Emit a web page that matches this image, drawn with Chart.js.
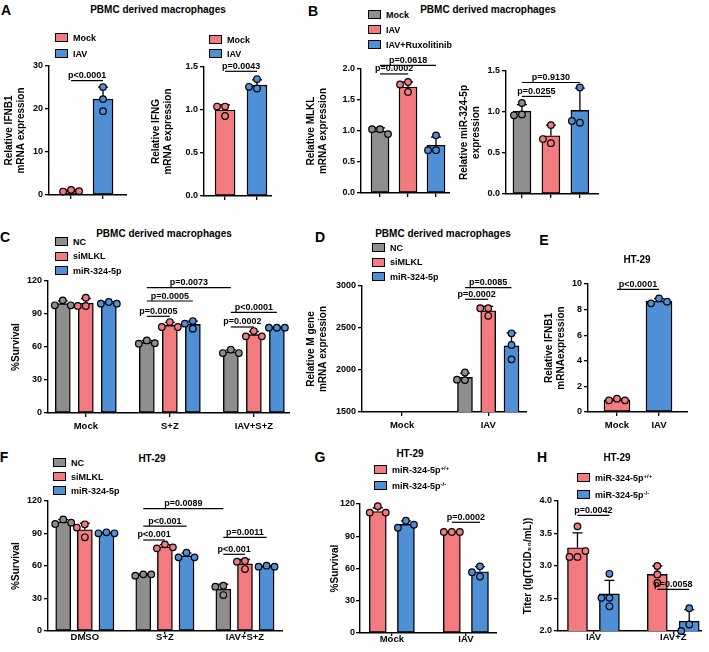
<!DOCTYPE html>
<html>
<head>
<meta charset="utf-8">
<script src="https://cdn.jsdelivr.net/npm/chart.js@4.4.1/dist/chart.umd.min.js"></script>
<style>
  body { margin: 0; background: #fff; }
  #fig { position: relative; width: 709px; height: 652px; overflow: hidden;
         font-family: 'Liberation Sans', Arial, sans-serif; font-weight: bold; color: #000; }
  #fig canvas { position: absolute; }
  .txt { position: absolute; white-space: nowrap; transform: translate(-50%, -50%); }
  .leg { position: absolute; display: flex; align-items: center; height: 9px;
         font-size: 9px; white-space: nowrap; }
  .leg i { display: inline-block; box-sizing: border-box; width: 13px; height: 9px;
           border: 1.5px solid #000; margin-right: 5px; }
  .leg sup { font-size: 6px; vertical-align: 3px; line-height: 0; }
</style>
</head>
<body>
<div id="fig"></div>
<script>
const GRAY = '#8e8e8e', RED = '#f27b7f', BLUE = '#4f8fd6';

// ---- A: PBMC derived macrophages, IFNB1 / IFNG
const aLabels = ['Mock', 'IAV'];
const ifnb1Mean = [0.97, 22.3];
const ifnb1Sd = [0.2, 2.8];
const ifnb1Pts = [[1.2, 0.8, 0.9], [25.1, 22.3, 19.5]];
const ifngMean = [1.0, 1.29];
const ifngSd = [0.06, 0.06];
const ifngPts = [[1.04, 1.04, 0.93], [1.36, 1.25, 1.27]];

// ---- B: MLKL / miR-324-5p
const bLabels = ['Mock', 'IAV', 'IAV+Ruxolitinib'];
const mlklMean = [1.0, 1.71, 0.77];
const mlklSd = [0.05, 0.08, 0.13];
const mlklPts = [[1.03, 1.03, 0.95], [1.79, 1.75, 1.63], [0.93, 0.69, 0.69]];
const mirMean = [1.01, 0.71, 1.02];
const mirSd = [0.08, 0.13, 0.27];
const mirPts = [[1.11, 0.97, 0.96], [0.84, 0.62, 0.67], [1.30, 0.87, 0.89]];

// ---- C: survival, PBMC macrophages
const cGroups = ['Mock', 'S+Z', 'IAV+S+Z'];
const cNcMean = [99.4, 64.2, 55.5];
const cNcSd = [2.6, 1.7, 1.8];
const cNcPts = [[102.4, 97.9, 97.9], [66.0, 63.0, 63.5], [57.6, 54.5, 54.5]];
const cSiMean = [99.8, 79.7, 71.3];
const cSiSd = [4.3, 2.6, 2.8];
const cSiPts = [[104.8, 97.3, 97.3], [82.7, 78.2, 78.2], [74.5, 69.7, 69.7]];
const cMirMean = [100.2, 80.5, 77.6];
const cMirSd = [1.0, 3.0, 0.5];
const cMirPts = [[100.9, 99.4, 99.4], [83.6, 76.7, 81.2], [77.6, 77.6, 77.6]];

// ---- D: M gene
const dGroups = ['Mock', 'IAV'];
const dNcMean = [null, 1912];
const dNcSd = [null, 50];
const dNcPts = [null, [1970, 1885, 1880]];
const dSiMean = [null, 2705];
const dSiSd = [null, 52];
const dSiPts = [null, [2735, 2735, 2645]];
const dMirMean = [null, 2287];
const dMirSd = [null, 155];
const dMirPts = [null, [2437, 2298, 2127]];

// ---- E: HT-29 IFNB1
const eLabels = ['Mock', 'IAV'];
const eMean = [0.95, 8.66];
const eSd = [0.08, 0.2];
const ePts = [[1.04, 0.91, 0.91], [8.88, 8.49, 8.62]];

// ---- F: HT-29 survival
const fGroups = ['DMSO', 'S+Z', 'IAV+S+Z'];
const fNcMean = [100.6, 51.9, 38.6];
const fNcSd = [2.2, 0.7, 4.7];
const fNcPts = [[103, 98.8, 100], [52.3, 51.1, 52.3], [41.8, 40.9, 33.2]];
const fSiMean = [93.5, 77.8, 61.9];
const fSiSd = [6.0, 1.9, 4.1];
const fSiPts = [[98.5, 95.5, 86.5], [80, 76.3, 77.2], [64.6, 64, 57.2]];
const fMirMean = [90.5, 69.4, 59.7];
const fMirSd = [0.5, 2.5, 0.5];
const fMirPts = [[91.1, 90.2, 90.2], [72.3, 68, 68], [60.3, 59.4, 59.4]];

// ---- G: HT-29 survival, knockout
const gGroups = ['Mock', 'IAV'];
const gWtMean = [113, 94];
const gWtSd = [3.5, 0.3];
const gWtPts = [[118, 112, 112], [94, 94, 94]];
const gKoMean = [101, 57];
const gKoSd = [3.3, 4.8];
const gKoPts = [[104.5, 98, 100.7], [62, 52.5, 56.5]];

// ---- H: HT-29 titer
const hGroups = ['IAV', 'IAV+Z'];
const hWtMean = [3.28, 2.87];
const hWtSd = [0.23, 0.13];
const hWtPts = [[3.61, 3.14, 3.14, 3.23], [3.0, 2.87, 2.74]];
const hKoMean = [2.57, 2.15];
const hKoSd = [0.21, 0.18];
const hKoPts = [[2.88, 2.51, 2.51, 2.38], [2.35, 2.10, 2.00]];

// p-value bars: [text, datasetA, indexA, datasetB, indexB, y]
const ifnb1P = [['p<0.0001', 0, 0, 0, 1, 26.6]];
const ifngP = [['p=0.0043', 0, 0, 0, 1, 1.45]];
const mlklP = [['p=0.0002', 0, 0, 0, 1, 1.92], ['p=0.0618', 0, 0, 0, 2, 2.06]];
const mirP = [['p=0.0255', 0, 0, 0, 1, 1.19], ['p=0.9130', 0, 0, 0, 2, 1.36]];
const cP = [['p=0.0073', 0, 1, 0, 2, 113.9], ['p=0.0005', 0, 1, 2, 1, 101.8], ['p=0.0005', 0, 1, 1, 1, 87.9],
            ['p<0.0001', 0, 2, 2, 2, 91.5], ['p=0.0002', 0, 2, 1, 2, 78.2]];
const dP = [['p=0.0085', 0, 1, 2, 1, 2980], ['p=0.0002', 0, 1, 1, 1, 2842]];
const eP = [['p<0.0001', 0, 0, 0, 1, 9.58]];
const fP = [['p=0.0089', 0, 1, 0, 2, 112.9], ['p<0.001', 0, 1, 2, 1, 96.9], ['p<0.001', 0, 1, 1, 1, 84],
            ['p=0.0011', 0, 2, 2, 2, 86.5], ['p<0.001', 0, 2, 1, 2, 70.8]];
const gP = [['p=0.0002', 0, 1, 1, 1, 103]];
const hP = [['p=0.0042', 0, 0, 1, 0, 3.78], ['p=0.0058', 0, 1, 1, 1, 2.64]];

const treatNames = ['NC', 'siMLKL', 'miR-324-5p'];
const koNames = ['miR-324-5p<sup>+/+</sup>', 'miR-324-5p<sup>-/-</sup>'];

Chart.defaults.font.family = "'Liberation Sans', Arial, sans-serif";
Chart.defaults.font.weight = 'bold';
Chart.defaults.font.size = 9;
Chart.defaults.color = '#000';

const fig = document.getElementById('fig');

// error bar (upper SD) + scattered replicate points
const dotsPlugin = {
  id: 'dots',
  afterDatasetsDraw(chart) {
    const ctx = chart.ctx, ys = chart.scales.y;
    chart.data.datasets.forEach((ds, k) => {
      chart.getDatasetMeta(k).data.forEach((bar, i) => {
        const m = ds.data[i].y;
        if (m == null || !ds.pts[i]) return;
        const col = Array.isArray(ds.dotColor) ? ds.dotColor[i] : ds.dotColor;
        const yTop = ys.getPixelForValue(m + ds.sd[i]);
        ctx.save();
        ctx.strokeStyle = '#000';
        ctx.lineWidth = 1.3;
        ctx.beginPath();
        ctx.moveTo(bar.x, bar.y);
        ctx.lineTo(bar.x, yTop);
        ctx.moveTo(bar.x - 5, yTop);
        ctx.lineTo(bar.x + 5, yTop);
        ctx.stroke();
        const r = 3.3, d = 8, placed = [];
        ds.pts[i].forEach(v => {
          const py = ys.getPixelForValue(v);
          let px = bar.x;
          for (const o of [0, -d, d, -2 * d, 2 * d]) {
            if (placed.every(q => Math.hypot(q[0] - (bar.x + o), q[1] - py) >= d - 0.5)) { px = bar.x + o; break; }
          }
          placed.push([px, py]);
          ctx.beginPath();
          ctx.arc(px, py, r, 0, 2 * Math.PI);
          ctx.fillStyle = col;
          ctx.fill();
          ctx.lineWidth = 1.2;
          ctx.stroke();
        });
        ctx.restore();
      });
    });
  }
};

const bracketPlugin = {
  id: 'brackets',
  afterDraw(chart, args, opts) {
    const ctx = chart.ctx, ys = chart.scales.y;
    (opts.items || []).forEach(([text, da, ia, db, ib, yv]) => {
      const xa = chart.getDatasetMeta(da).data[ia].x;
      const xb = chart.getDatasetMeta(db).data[ib].x;
      const y = ys.getPixelForValue(yv);
      ctx.save();
      ctx.strokeStyle = '#000';
      ctx.lineWidth = 1.2;
      ctx.beginPath();
      ctx.moveTo(xa, y);
      ctx.lineTo(xb, y);
      ctx.stroke();
      ctx.fillStyle = '#000';
      ctx.font = "bold 9px 'Liberation Sans', Arial, sans-serif";
      ctx.textAlign = 'center';
      ctx.textBaseline = 'bottom';
      ctx.fillText(text, (xa + xb) / 2, y - 0.5);
      ctx.restore();
    });
  }
};

function makePanel(p) {
  const padTop = 24, xh = p.xh || 22;
  const left = p.tx - 7, top = p.yT - padTop;
  const cv = document.createElement('canvas');
  cv.width = p.x1 - left;
  cv.height = p.yB - top + xh;
  cv.style.left = left + 'px';
  cv.style.top = top + 'px';
  fig.appendChild(cv);
  new Chart(cv, {
    type: 'bar',
    data: {
      datasets: p.series.map((s, k) => ({
        data: s.mean.map((v, i) => ({ x: i + 1 + (p.offs ? p.offs[k] : 0), y: v })),
        backgroundColor: s.color,
        borderColor: '#000',
        borderWidth: 1.4,
        borderSkipped: false,
        barThickness: p.barW,
        grouped: false,
        sd: s.sd,
        pts: s.pts,
        dotColor: s.color,
      })),
    },
    options: {
      responsive: false,
      animation: false,
      devicePixelRatio: 1,
      layout: { padding: { top: padTop, left: 0, right: 0, bottom: 0 } },
      plugins: {
        legend: { display: false },
        tooltip: { enabled: false },
        brackets: { items: p.brackets },
      },
      scales: {
        x: {
          type: 'linear',
          offset: false,
          min: p.xmin,
          max: p.xmax,
          afterBuildTicks: sc => { sc.ticks = p.groups.map((g, i) => ({ value: i + 1 })); },
          afterFit: sc => { sc.height = xh; },
          ticks: {
            autoSkip: false,
            maxRotation: 0,
            padding: p.xpad == null ? 4 : p.xpad,
            font: { size: 9.5, weight: 'bold' },
            callback: (v, i) => (p.showX ? p.groups[i] : ''),
          },
          grid: { display: true, offset: false, drawOnChartArea: false, drawTicks: true,
                  tickLength: p.tl || 4, color: '#000', lineWidth: 1.3 },
          border: { display: true, color: '#000', width: 1.4 },
        },
        y: {
          min: p.ymin,
          max: p.ymax,
          afterFit: sc => { sc.width = p.x0 - left; },
          ticks: { stepSize: p.step, padding: p.ypad == null ? 2 : p.ypad,
                   font: { size: 9, weight: 'bold' }, callback: v => v.toFixed(p.dec) },
          title: { display: true, text: p.title, font: { size: 10, weight: 'bold', lineHeight: 1.2 },
                   padding: { top: 1, bottom: 0 } },
          grid: { display: true, drawOnChartArea: false, drawTicks: true, tickLength: 4,
                  color: '#000', lineWidth: 1.3 },
          border: { display: true, color: '#000', width: 1.4 },
        },
      },
    },
    plugins: [dotsPlugin, bracketPlugin],
  });
}

function addText(x, y, html, size) {
  const el = document.createElement('div');
  el.className = 'txt';
  el.style.left = x + 'px';
  el.style.top = y + 'px';
  el.style.fontSize = size + 'px';
  el.innerHTML = html;
  fig.appendChild(el);
}

function addLegend(x, y, gap, names, colors) {
  names.forEach((n, i) => {
    const row = document.createElement('div');
    row.className = 'leg';
    row.style.left = x + 'px';
    row.style.top = (y + i * gap) + 'px';
    row.innerHTML = '<i style="background:' + colors[i] + '"></i><span>' + n + '</span>';
    fig.appendChild(row);
  });
}

// A
makePanel({ tx: 9, x0: 49, x1: 127, yT: 66, yB: 195, xmin: 0.31, xmax: 2.75, ymin: 0, ymax: 30, step: 10, dec: 0,
  barW: 20, groups: aLabels, title: ['Relative IFNB1', 'mRNA expression'], brackets: ifnb1P,
  series: [{ mean: ifnb1Mean, sd: ifnb1Sd, pts: ifnb1Pts, color: [RED, BLUE] }] });
makePanel({ tx: 156, x0: 204, x1: 272, yT: 67, yB: 196, xmin: 0.34, xmax: 2.47, ymin: 0, ymax: 1.5, step: 0.5, dec: 1,
  barW: 20, groups: aLabels, title: ['Relative IFNG', 'mRNA expression'], brackets: ifngP,
  series: [{ mean: ifngMean, sd: ifngSd, pts: ifngPts, color: [RED, BLUE] }] });

// B
makePanel({ tx: 311, x0: 361, x1: 450, yT: 69, yB: 193, xmin: 0.32, xmax: 3.5, ymin: 0, ymax: 2, step: 0.5, dec: 1,
  barW: 18, groups: bLabels, title: ['Relative MLKL', 'mRNA expression'], brackets: mlklP,
  series: [{ mean: mlklMean, sd: mlklSd, pts: mlklPts, color: [GRAY, RED, BLUE] }] });
makePanel({ tx: 464, x0: 506, x1: 599, yT: 71, yB: 194, xmin: 0.45, xmax: 3.66, ymin: 0, ymax: 1.5, step: 0.5, dec: 1,
  barW: 18, groups: bLabels, title: ['Relative miR-324-5p', 'expression'], brackets: mirP,
  series: [{ mean: mirMean, sd: mirSd, pts: mirPts, color: [GRAY, RED, BLUE] }] });

// C
makePanel({ tx: 16, x0: 48, x1: 290, yT: 281, yB: 413, xmin: 0.55, xmax: 3.43, offs: [-0.274, 0, 0.274],
  ymin: 0, ymax: 120, step: 30, dec: 0, barW: 15, groups: cGroups, showX: true, title: '%Survival', brackets: cP,
  series: [{ mean: cNcMean, sd: cNcSd, pts: cNcPts, color: GRAY },
           { mean: cSiMean, sd: cSiSd, pts: cSiPts, color: RED },
           { mean: cMirMean, sd: cMirSd, pts: cMirPts, color: BLUE }] });

// D
makePanel({ tx: 311, x0: 362, x1: 527, yT: 286, yB: 412, xmin: 0.535, xmax: 2.45, offs: [-0.27, 0, 0.27],
  ymin: 1500, ymax: 3000, step: 500, dec: 0, barW: 15, groups: dGroups, showX: true,
  title: ['Relative M gene', 'mRNA expression'], brackets: dP,
  series: [{ mean: dNcMean, sd: dNcSd, pts: dNcPts, color: GRAY },
           { mean: dSiMean, sd: dSiSd, pts: dSiPts, color: RED },
           { mean: dMirMean, sd: dMirSd, pts: dMirPts, color: BLUE }] });

// E
makePanel({ tx: 549, x0: 588, x1: 688, yT: 284, yB: 412, xmin: 0.31, xmax: 2.69, ymin: 0, ymax: 10, step: 2, dec: 0,
  barW: 26, groups: eLabels, showX: true, title: ['Relative IFNB1', 'mRNAexpression'], brackets: eP,
  series: [{ mean: eMean, sd: eSd, pts: ePts, color: [RED, BLUE] }] });

// F
makePanel({ tx: 16, x0: 48, x1: 283, yT: 501, yB: 631, xmin: 0.54, xmax: 3.475, offs: [-0.27, 0, 0.27],
  ymin: 0, ymax: 120, step: 30, dec: 0, barW: 15, groups: fGroups, showX: true, tl: 3, xpad: -2, xh: 20,
  title: '%Survival', brackets: fP,
  series: [{ mean: fNcMean, sd: fNcSd, pts: fNcPts, color: GRAY },
           { mean: fSiMean, sd: fSiSd, pts: fSiPts, color: RED },
           { mean: fMirMean, sd: fMirSd, pts: fMirPts, color: BLUE }] });

// G
makePanel({ tx: 335, x0: 360, x1: 497, yT: 504, yB: 633, xmin: 0.57, xmax: 2.42, offs: [-0.19, 0.19],
  ymin: 0, ymax: 120, step: 30, dec: 0, barW: 17, groups: gGroups, showX: true, tl: 3, xpad: -2, xh: 20, ypad: 1,
  title: '%Survival', brackets: gP,
  series: [{ mean: gWtMean, sd: gWtSd, pts: gWtPts, color: RED },
           { mean: gKoMean, sd: gKoSd, pts: gKoPts, color: BLUE }] });

// H
makePanel({ tx: 528, x0: 558, x1: 702, yT: 501, yB: 631, xmin: 0.556, xmax: 2.36, offs: [-0.2, 0.2],
  ymin: 2, ymax: 4, step: 0.5, dec: 1, barW: 20, groups: hGroups, showX: true, tl: 3, xpad: -2, xh: 20,
  title: 'Titer (lg(TCID\u2085\u2080/mL))', brackets: hP,
  series: [{ mean: hWtMean, sd: hWtSd, pts: hWtPts, color: RED },
           { mean: hKoMean, sd: hKoSd, pts: hKoPts, color: BLUE }] });

// panel letters
addText(6, 10, 'A', 14); addText(313, 11, 'B', 14);
addText(5, 237, 'C', 14); addText(320, 237, 'D', 14); addText(544, 240, 'E', 14);
addText(4, 457, 'F', 14); addText(320, 457, 'G', 14); addText(542, 457, 'H', 14);

// titles
addText(158, 9, 'PBMC derived macrophages', 10);
addText(488, 9, 'PBMC derived macrophages', 10);
addText(164, 233, 'PBMC derived macrophages', 10);
addText(443, 233, 'PBMC derived macrophages', 10);
addText(637, 259, 'HT-29', 10);
addText(152, 458, 'HT-29', 10);
addText(410, 453, 'HT-29', 10);
addText(617, 457, 'HT-29', 10);

// legends
addLegend(55, 33, 16, aLabels, [RED, BLUE]);
addLegend(209, 35, 14, aLabels, [RED, BLUE]);
addLegend(368, 10, 15, bLabels, [GRAY, RED, BLUE]);
addLegend(55, 237, 14.5, treatNames, [GRAY, RED, BLUE]);
addLegend(372, 243, 14.5, treatNames, [GRAY, RED, BLUE]);
addLegend(53, 458, 14, treatNames, [GRAY, RED, BLUE]);
addLegend(374, 465, 16, koNames, [RED, BLUE]);
addLegend(577, 473, 17, koNames, [RED, BLUE]);
</script>
</body>
</html>
